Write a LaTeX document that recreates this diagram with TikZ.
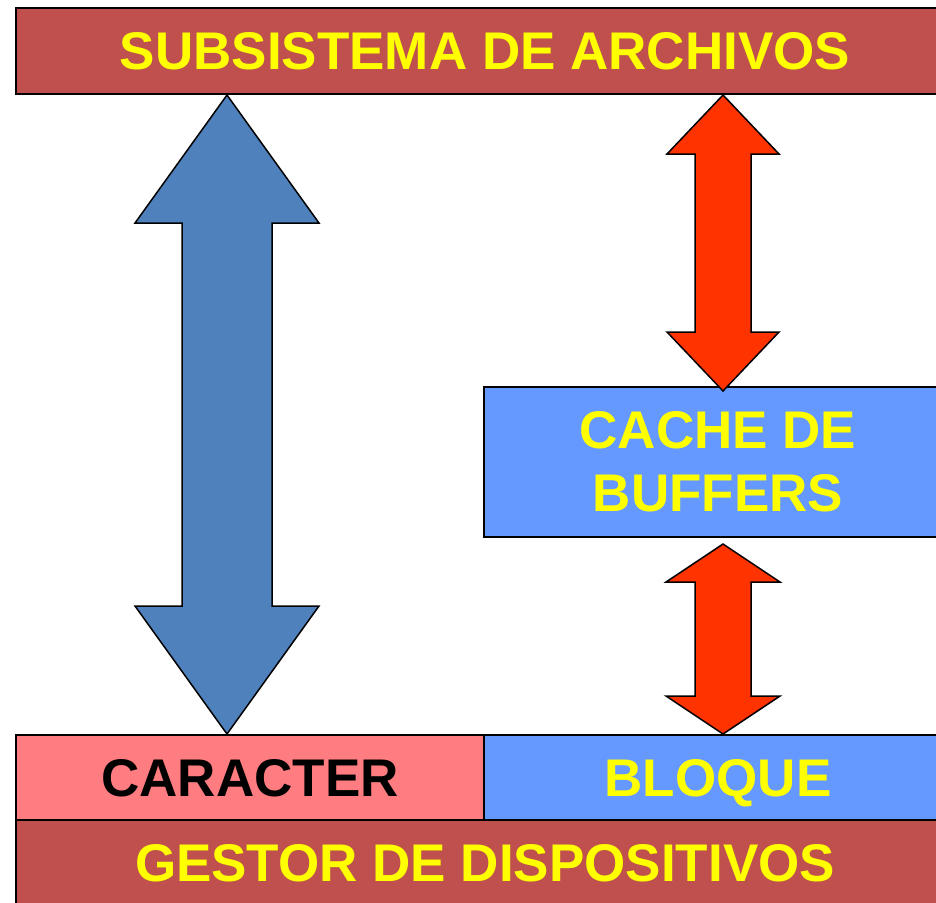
\documentclass[tikz,border=0pt]{standalone}
\usepackage{fontspec}
\setmainfont{Liberation Sans}
\usetikzlibrary{calc}

\definecolor{rojoosc}{HTML}{C0504D}
\definecolor{rosa}{HTML}{FF7C80}
\definecolor{azulcl}{HTML}{6699FF}
\definecolor{azulfl}{HTML}{4F81BD}
\definecolor{rojofl}{HTML}{FF3300}
\definecolor{amarillo}{HTML}{FFFF00}

\tikzset{
  caja/.style={draw=black, line width=1pt, inner sep=0pt, align=center,
    font=\fontsize{26.5}{31.5}\selectfont\bfseries},
  ancha/.style={caja, minimum width=469pt, minimum height=43pt},
  media/.style={caja, minimum width=234pt, minimum height=42.5pt, text depth=0pt},
  flecha/.style={draw=black, line width=0.75pt, line join=miter}
}

% double block arrow: style, top tip, bottom tip, head length, head half width, shaft half width
\newcommand{\flechadoble}[6]{%
  \draw[flecha, #1] (#2) -- ++(#5,#4) -- ++({-#5+#6},0)
    -- ($(#3)+(#6,-#4)$) -- ++({#5-#6},0) -- (#3)
    -- ++(-#5,-#4) -- ++({#5-#6},0)
    -- ($(#2)+(-#6,#4)$) -- ++({-#5+#6},0) -- cycle;}

\begin{document}
\begin{tikzpicture}[x=0.5pt, y=-0.5pt]
    \useasboundingbox (0,0) rectangle (936,902);
    \clip (0,0) rectangle (936,902);

    % Boxes
    \node[ancha, fill=rojoosc, text=amarillo] (archivos) at (485,51) {SUBSISTEMA DE ARCHIVOS};
    \node[caja, minimum width=234pt, minimum height=75pt, fill=azulcl, text=amarillo] (cache) at (718,462) {CACHE DE\\BUFFERS};
    \node[media, fill=rosa, text=black] (caracter) at (250,777.5) {CARACTER};
    \node[media, fill=azulcl, text=amarillo] (bloque) at (718,777.5) {BLOQUE};
    \node[ancha, fill=rojoosc, text=amarillo] (gestor) at (485,863) {GESTOR DE DISPOSITIVOS};

    % Arrow tips
    \coordinate (c1) at (227,0 |- archivos.south);
    \coordinate (c2) at (227,0 |- caracter.north);
    \coordinate (b1) at (723,0 |- archivos.south);
    \coordinate (b2) at ($(723,0 |- cache.north)+(0,5)$);
    \coordinate (b3) at ($(723,0 |- cache.south)+(0,6)$);
    \coordinate (b4) at (723,0 |- bloque.north);

    % Arrows
    \flechadoble{fill=azulfl}{c1}{c2}{128}{92}{45}
    \flechadoble{fill=rojofl}{b1}{b2}{59}{56}{28}
    \flechadoble{fill=rojofl}{b3}{b4}{38}{57}{28}
\end{tikzpicture}
\end{document}
